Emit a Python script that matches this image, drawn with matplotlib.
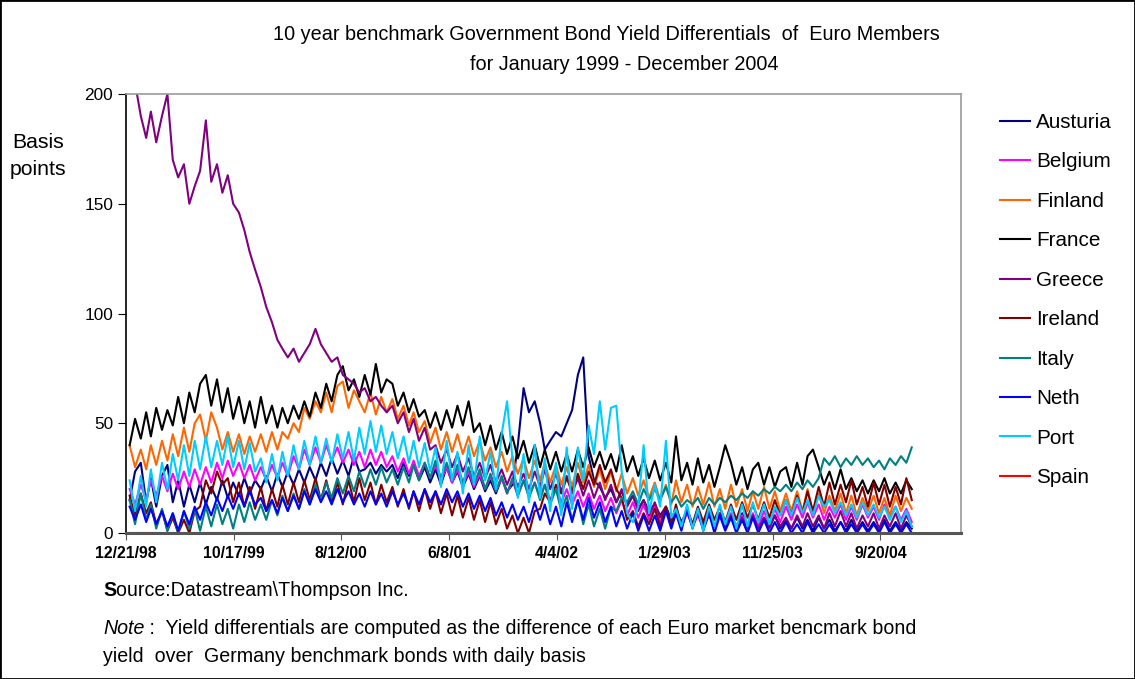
import matplotlib
matplotlib.use('Agg')
import matplotlib.pyplot as plt
from matplotlib import font_manager
from matplotlib.patches import Rectangle
import numpy as np
import pandas as pd

# condensed font like the original if available, else plain Arial metrics
try:
    font_manager.findfont('Liberation Sans Narrow', fallback_to_default=False)
    fam, k = 'Liberation Sans Narrow', 1.2
except ValueError:
    fam, k = 'Liberation Sans', 1.0
plt.rcParams['font.family'] = [fam, 'DejaVu Sans']

countries = ['Austuria', 'Belgium', 'Finland', 'France', 'Greece',
             'Ireland', 'Italy', 'Neth', 'Port', 'Spain']
colours = ['#000080', '#FF00FF', '#FF6600', '#000000', '#800080',
           '#800000', '#008080', '#0000FF', '#00CCFF', '#FF0000']
tick_labels = ['12/21/98', '10/17/99', '8/12/00', '6/8/01',
               '4/4/02', '1/29/03', '11/25/03', '9/20/04']
yticks = [0, 50, 100, 150, 200]

# two readings per month (1st and 16th), Jan 1999 - Dec 2004, basis points
# values alternate between the top and bottom of each noisy band
month_starts = pd.date_range('1999-01-01', '2004-12-01', freq='MS')
dates = sorted(list(month_starts) + list(month_starts + pd.Timedelta(days=15)))

austria = [
    15, 28, 32, 14, 25, 12, 26, 31, 14, 24, 12, 22, 14, 23, 13, 21, 15, 24, 16, 23, 17, 25, 18, 24,
    20, 26, 19, 27, 21, 28, 22, 29, 23, 30, 24, 32, 26, 34, 27, 33, 26, 35, 28, 29, 32, 27, 31, 28,
    31, 25, 32, 26, 31, 24, 30, 23, 29, 22, 30, 23, 28, 21, 27, 20, 26, 19, 24, 18, 25, 19, 22, 40,
    66, 55, 60, 50, 38, 42, 46, 44, 50, 56, 72, 80, 35, 24, 21, 16, 20, 14, 19, 13, 17, 11, 15, 10,
    13, 8, 12, 6, 11, 5, 10, 4, 9, 4, 10, 3, 9, 4, 8, 3, 9, 3, 8, 2, 7, 3, 8, 2,
    6, 2, 7, 2, 6, 1, 7, 2, 6, 1, 5, 1, 6, 1, 5, 1, 5, 1, 6, 1, 5, 1, 5, 2]
belgium = [
    20, 13, 22, 15, 24, 17, 26, 19, 27, 20, 28, 21, 29, 22, 30, 23, 32, 25, 33, 26, 32, 25, 31, 24,
    30, 24, 31, 25, 32, 26, 35, 29, 38, 31, 39, 32, 40, 33, 39, 32, 38, 31, 37, 30, 38, 31, 37, 30,
    35, 28, 34, 27, 33, 26, 32, 25, 31, 24, 30, 23, 29, 22, 28, 21, 27, 20, 26, 19, 25, 18, 24, 17,
    24, 17, 23, 16, 22, 15, 21, 14, 20, 13, 19, 12, 18, 11, 17, 10, 16, 9, 15, 8, 14, 7, 13, 6,
    12, 5, 11, 4, 10, 3, 9, 3, 8, 2, 9, 3, 8, 2, 9, 2, 8, 3, 9, 3, 10, 4, 11, 5,
    12, 6, 13, 7, 14, 7, 13, 6, 12, 7, 13, 6, 12, 6, 13, 7, 12, 6, 13, 7, 12, 6, 11, 5]
finland = [
    40, 30, 38, 29, 40, 31, 42, 33, 45, 35, 48, 37, 50, 54, 42, 55, 48, 38, 46, 37, 45, 36, 44, 37,
    45, 37, 46, 38, 46, 43, 50, 46, 57, 52, 60, 55, 64, 55, 67, 69, 57, 65, 60, 55, 64, 54, 62, 55,
    61, 52, 58, 49, 55, 46, 51, 41, 48, 38, 46, 37, 45, 36, 44, 35, 42, 33, 39, 30, 37, 28, 35, 27,
    34, 25, 33, 24, 32, 23, 31, 22, 30, 21, 32, 23, 31, 21, 29, 20, 28, 19, 27, 18, 25, 17, 24, 16,
    23, 15, 22, 13, 24, 14, 22, 12, 21, 13, 23, 12, 20, 11, 22, 12, 20, 10, 19, 11, 21, 11, 19, 10,
    18, 10, 19, 10, 20, 9, 18, 9, 17, 10, 18, 9, 17, 8, 16, 10, 17, 9, 16, 8, 17, 10, 16, 11]
france = [
    40, 52, 43, 55, 44, 57, 47, 56, 49, 62, 50, 64, 55, 68, 72, 58, 70, 55, 66, 52, 62, 50, 60, 48,
    62, 50, 58, 48, 57, 50, 58, 52, 60, 53, 64, 57, 68, 60, 72, 76, 65, 70, 62, 72, 63, 77, 64, 70,
    68, 58, 64, 55, 61, 53, 56, 48, 55, 47, 56, 48, 58, 49, 60, 46, 50, 40, 49, 38, 46, 36, 44, 34,
    42, 32, 40, 30, 38, 29, 37, 28, 36, 28, 38, 30, 39, 30, 37, 29, 36, 28, 40, 28, 35, 26, 34, 25,
    33, 24, 32, 23, 44, 24, 32, 22, 34, 23, 31, 21, 30, 40, 32, 22, 30, 20, 29, 32, 22, 30, 21, 28,
    30, 21, 32, 22, 35, 38, 30, 22, 28, 20, 29, 20, 25, 19, 24, 18, 24, 19, 25, 18, 23, 18, 24, 20]
greece = [
    215, 205, 190, 180, 192, 178, 190, 200, 170, 162, 168, 150, 158, 165, 188, 160, 168, 155, 163, 150, 146, 138, 128, 120,
    112, 103, 96, 88, 84, 80, 84, 78, 82, 86, 93, 86, 82, 78, 80, 72, 70, 68, 64, 66, 60, 62, 58, 55,
    58, 50, 55, 46, 52, 42, 48, 38, 40, 32, 38, 30, 36, 28, 34, 26, 32, 25, 31, 23, 29, 22, 28, 21,
    27, 20, 28, 21, 29, 20, 27, 19, 26, 18, 25, 17, 24, 16, 23, 15, 22, 14, 20, 12, 17, 10, 15, 8,
    14, 7, 12, 5, 11, 4, 10, 3, 9, 3, 8, 3, 9, 2, 8, 2, 7, 2, 8, 2, 7, 2, 8, 3,
    7, 2, 8, 3, 9, 3, 8, 2, 9, 3, 10, 3, 9, 2, 8, 3, 9, 2, 8, 3, 9, 2, 8, 3]
ireland = [
    17, 8, 18, 9, 14, 4, 10, 1, 7, 0, 6, 0, 10, 12, 24, 18, 28, 22, 25, 14, 23, 12, 21, 11,
    21, 10, 20, 12, 22, 13, 23, 14, 24, 15, 25, 15, 24, 14, 23, 13, 24, 14, 25, 15, 23, 13, 22, 14,
    21, 12, 20, 11, 19, 10, 20, 11, 19, 9, 18, 8, 17, 7, 16, 6, 15, 5, 14, 4, 11, 2, 8, 0,
    7, 0, 10, 11, 18, 14, 22, 18, 25, 19, 27, 20, 28, 22, 31, 23, 29, 20, 16, 6, 10, 3, 9, 4,
    11, 3, 12, 4, 13, 3, 11, 4, 12, 5, 13, 6, 12, 5, 13, 6, 14, 7, 13, 6, 14, 7, 15, 8,
    15, 8, 17, 9, 19, 10, 21, 12, 23, 13, 22, 14, 24, 13, 21, 12, 23, 13, 22, 12, 21, 13, 25, 15]
italy = [
    15, 4, 18, 6, 13, 2, 11, 1, 9, 0, 10, 2, 11, 1, 12, 3, 13, 4, 11, 2, 13, 5, 14, 6,
    13, 6, 15, 8, 17, 10, 18, 11, 20, 13, 22, 15, 23, 16, 25, 18, 26, 19, 28, 21, 29, 22, 30, 23,
    29, 22, 30, 23, 31, 24, 32, 25, 33, 25, 32, 24, 31, 23, 30, 22, 29, 20, 27, 19, 26, 18, 25, 17,
    24, 16, 23, 15, 22, 13, 20, 10, 17, 6, 15, 4, 13, 3, 11, 2, 12, 10, 16, 14, 19, 13, 20, 15,
    20, 15, 21, 14, 17, 12, 15, 13, 16, 11, 16, 13, 16, 14, 17, 15, 18, 16, 19, 17, 20, 18, 21, 19,
    22, 19, 23, 20, 24, 21, 25, 34, 31, 35, 30, 34, 31, 35, 31, 34, 30, 33, 29, 34, 31, 35, 32, 39]
neth = [
    12, 6, 13, 5, 11, 4, 10, 3, 9, 1, 10, 4, 12, 6, 14, 8, 16, 10, 17, 11, 18, 12, 19, 13,
    16, 10, 15, 9, 16, 10, 17, 11, 19, 13, 20, 14, 19, 13, 20, 14, 19, 13, 18, 12, 19, 13, 18, 12,
    19, 13, 18, 12, 19, 13, 20, 14, 19, 13, 20, 14, 19, 12, 18, 11, 17, 10, 16, 8, 14, 7, 13, 6,
    12, 5, 14, 6, 13, 4, 12, 3, 14, 5, 15, 6, 16, 7, 14, 5, 12, 3, 10, 2, 9, 1, 8, 1,
    8, 1, 10, 2, 9, 1, 11, 2, 10, 1, 9, 0, 8, 1, 7, 0, 6, 0, 7, 0, 6, 0, 5, 0,
    5, 0, 4, 0, 5, 0, 4, 0, 4, 0, 5, 0, 4, 0, 4, 0, 4, 0, 5, 0, 4, 0, 4, 0]
port = [
    24, 10, 26, 12, 29, 14, 32, 20, 36, 24, 40, 26, 42, 29, 44, 30, 42, 31, 44, 30, 42, 29, 41, 28,
    34, 23, 36, 24, 37, 26, 40, 29, 42, 31, 44, 32, 43, 32, 45, 34, 46, 33, 48, 36, 51, 37, 49, 36,
    46, 34, 44, 32, 42, 30, 41, 28, 39, 21, 42, 24, 37, 18, 40, 22, 44, 24, 37, 20, 45, 60, 34, 16,
    36, 14, 40, 16, 34, 10, 32, 8, 39, 11, 39, 24, 49, 36, 60, 38, 57, 58, 28, 9, 5, 12, 40, 9,
    22, 12, 42, 7, 11, 3, 13, 2, 11, 1, 12, 3, 13, 4, 12, 2, 13, 3, 14, 5, 13, 4, 12, 8,
    15, 8, 16, 9, 15, 8, 17, 12, 15, 9, 14, 8, 13, 7, 14, 8, 13, 7, 12, 6, 12, 5, 10, 3]
# Spain's line is not visible anywhere in the source; it sits on the axis
spain = [0] * 144

series = [austria, belgium, finland, france, greece,
          ireland, italy, neth, port, spain]

W, H = 1135, 679
fig = plt.figure(figsize=(W / 100, H / 100), dpi=100)
ax = fig.add_axes([125.7 / W, 1 - 533 / H, (961 - 125.7) / W, (533 - 94) / H])

for name, col, vals in zip(countries, colours, series):
    z = 1 if name == 'Spain' else 2
    ax.plot(dates, vals, color=col, lw=1.5, label=name, zorder=z)

tick_dates = pd.to_datetime(tick_labels, format='%m/%d/%y')
ax.set_xlim(tick_dates[0], tick_dates[0] + pd.Timedelta(days=2324))
ax.set_ylim(0, 200)
ax.set_xticks(tick_dates)
ax.set_xticklabels(tick_labels, fontsize=11.4 * k, fontweight='bold')
ax.set_yticks(yticks)
ax.set_yticklabels([str(v) for v in yticks], fontsize=12.4 * k)
ax.tick_params(axis='x', direction='out', length=5, color='#555555', pad=4)
ax.tick_params(axis='y', direction='out', length=6, color='black', pad=3)

for s in ['top', 'right']:
    ax.spines[s].set_color('#999999')
    ax.spines[s].set_linewidth(1.2)
ax.spines['left'].set_color('black')
ax.spines['left'].set_linewidth(1.2)
ax.spines['bottom'].set_color('#555555')
ax.spines['bottom'].set_linewidth(2.2)

fig.text(606 / W, 1 - 34 / H,
         '10 year benchmark Government Bond Yield Differentials  of  Euro Members',
         ha='center', va='center', fontsize=14.3 * k)
fig.text(624 / W, 1 - 64 / H, 'for January 1999 - December 2004',
         ha='center', va='center', fontsize=14.3 * k)
fig.text(38 / W, 1 - 156 / H, 'Basis\npoints', ha='center', va='center',
         fontsize=15.3 * k, linespacing=1.55)

leg_fs = 14.9 * k
fs_px = leg_fs * 100 / 72
fig.legend(loc='upper left', bbox_to_anchor=(1000 / W, 1 - 113 / H),
           frameon=False, fontsize=leg_fs, handlelength=30 / fs_px,
           handletextpad=0.28, borderpad=0, borderaxespad=0,
           labelspacing=(39.5 - 0.92 * fs_px) / fs_px)

src_fs = 14.1 * k
s1 = fig.text(103 / W, 1 - 591 / H, 'S', fontsize=src_fs, fontweight='bold',
              va='center')
ax.annotate('ource:Datastream\\Thompson Inc.', xy=(1, 0), xycoords=s1,
            va='bottom', fontsize=src_fs, annotation_clip=False)
n1 = fig.text(103 / W, 1 - 628 / H, 'Note', fontsize=src_fs, style='italic',
              va='center')
ax.annotate(' :  Yield differentials are computed as the difference of each '
            'Euro market bencmark bond', xy=(1, 0), xycoords=n1,
            va='bottom', fontsize=src_fs, annotation_clip=False)
fig.text(103 / W, 1 - 657 / H,
         'yield  over  Germany benchmark bonds with daily basis',
         fontsize=src_fs, va='center')

fig.patches.append(Rectangle((0, 0), 1, 1, transform=fig.transFigure,
                             fill=False, edgecolor='black', lw=2))

fig.savefig('out.png', dpi=100)
